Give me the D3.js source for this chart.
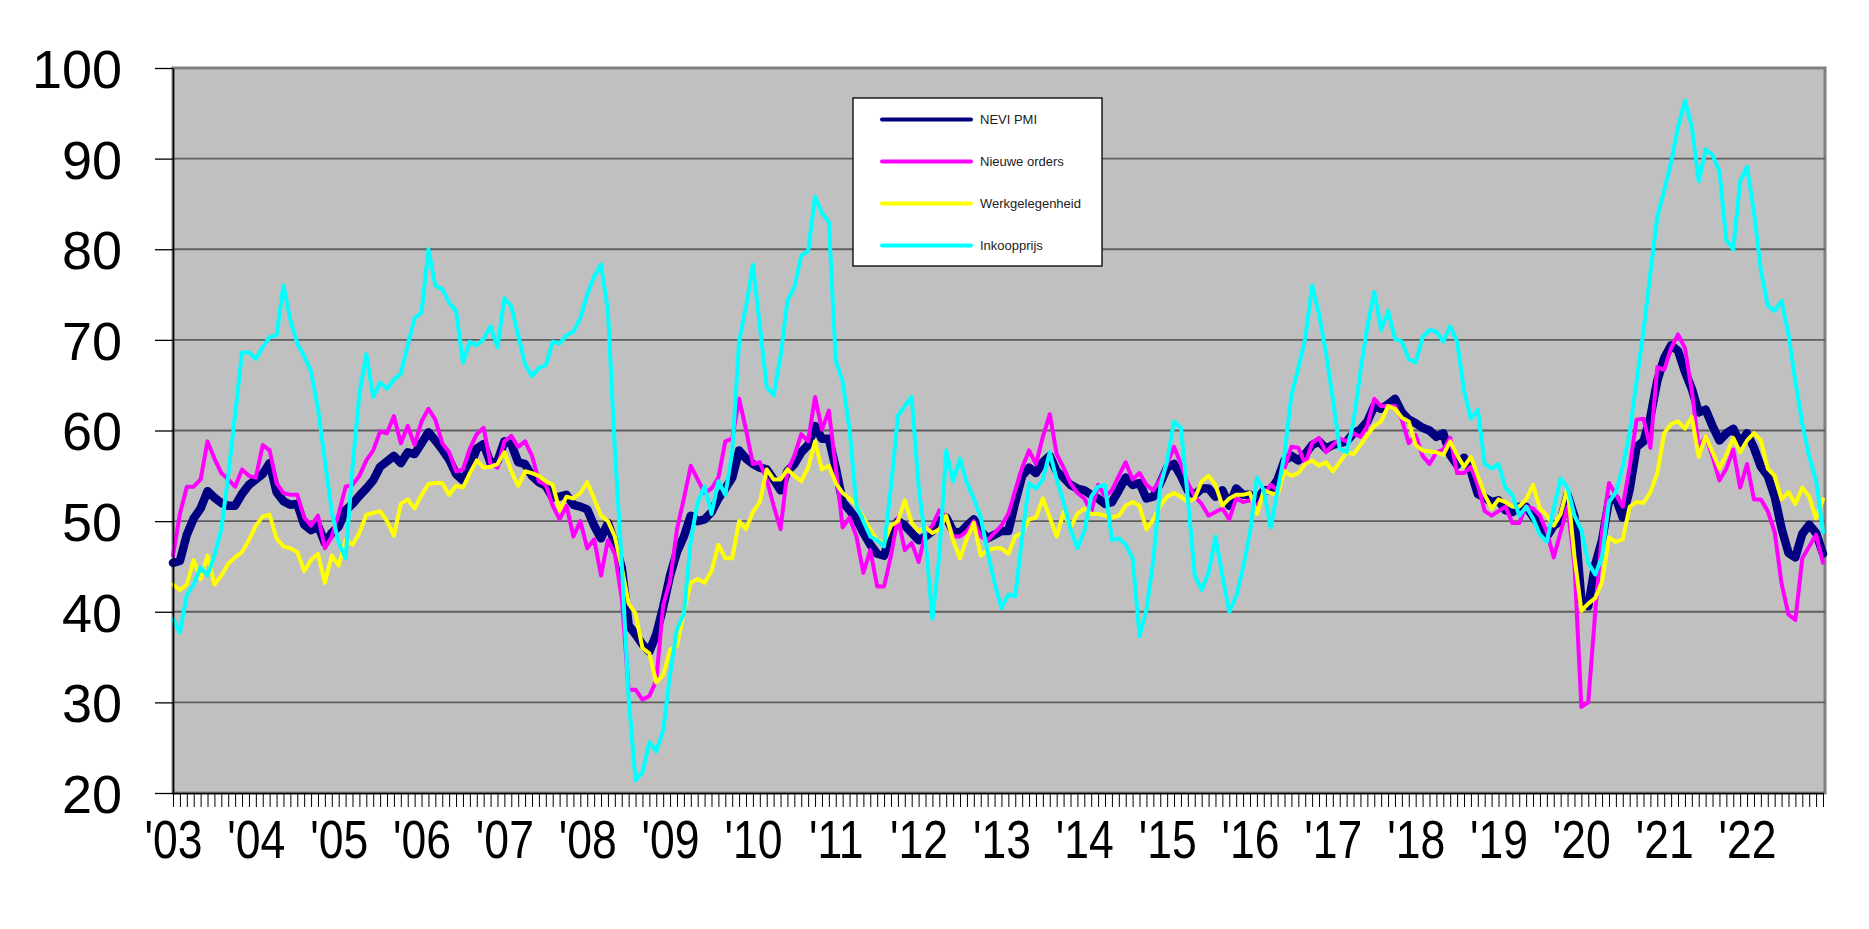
<!DOCTYPE html>
<html><head><meta charset="utf-8">
<script src="https://cdn.jsdelivr.net/npm/d3@7"></script>
<style>
html,body{margin:0;padding:0;background:#fff;}
svg{display:block;font-family:"Liberation Sans",Arial,Helvetica,sans-serif;}
</style></head><body>
<svg id="chart" width="1869" height="929"></svg>
<script>
// Monthly categories: April 2003 – March 2023
const categories = d3.timeMonth.range(new Date(2003, 3, 1), new Date(2023, 3, 1)).map(d3.timeFormat("%Y-%m"));
const yearLabels = ["'03","'04","'05","'06","'07","'08","'09","'10","'11","'12","'13","'14","'15","'16","'17","'18","'19","'20","'21","'22"];
const yTicks = [20,30,40,50,60,70,80,90,100];
const seriesNames = ["NEVI PMI","Nieuwe orders","Werkgelegenheid","Inkoopprijs"];

const nevi = [
45.4,45.6,48.5,50.3,51.4,53.3,52.6,52.0,51.7,51.7,53.0,54.0,
54.6,55.2,56.4,53.2,52.2,51.8,51.9,49.6,49.0,49.5,47.6,48.7,
49.4,51.2,51.9,52.8,53.6,54.5,56.0,56.6,57.2,56.4,57.6,57.4,
58.6,59.8,58.9,57.9,56.8,55.2,54.5,56.0,58.0,58.5,56.4,56.6,
58.8,58.5,56.5,56.3,55.0,54.3,53.9,52.6,52.7,52.9,51.8,51.6,
51.3,49.5,48.1,49.8,47.5,44.9,38.5,37.5,36.4,35.6,37.5,40.5,
44.0,46.6,48.3,50.6,50.0,50.2,51.0,52.5,53.6,54.8,57.8,56.9,
56.3,55.9,55.7,54.6,53.4,55.5,56.3,57.6,58.4,60.5,59.1,59.1,
55.9,52.1,51.2,50.2,48.7,47.4,46.4,46.2,48.7,50.0,49.5,48.7,
47.9,48.3,48.9,50.0,50.4,48.9,48.7,49.5,50.2,48.9,48.1,48.5,
48.9,48.9,52.1,55.0,55.9,55.3,56.5,57.2,55.5,54.8,54.0,53.6,
53.4,52.9,52.5,51.9,52.1,53.4,54.8,54.0,54.2,52.5,52.7,54.2,
55.9,56.3,55.0,53.4,52.9,53.6,53.6,52.7,53.4,51.7,53.6,52.9,
52.9,52.3,53.4,53.4,54.6,56.7,57.2,56.7,57.4,58.4,58.8,58.0,
58.4,58.6,58.8,59.7,60.1,61.0,62.7,62.4,62.9,63.5,62.0,61.2,
60.8,60.3,60.0,59.3,59.7,57.3,56.2,57.0,55.5,53.0,52.6,52.1,
52.3,51.2,51.0,51.6,51.6,50.5,49.5,48.3,49.5,50.0,52.9,50.5,
41.3,40.6,45.2,47.9,52.3,52.5,50.4,53.5,58.2,58.8,61.5,65.5,
68.0,69.4,68.8,66.5,64.6,62.0,62.3,60.5,58.9,59.7,60.2,58.6,
59.7,58.1,56.0,55.0,52.7,49.2,46.5,46.0,48.6,49.6,48.7,46.4];

const orders = [
46.2,50.8,53.8,53.8,54.6,58.8,56.9,55.3,54.6,53.8,55.7,55.0,
54.8,58.4,57.8,54.2,53.1,52.9,52.9,50.4,49.5,50.6,47.0,48.3,
50.8,53.8,54.0,55.0,56.7,57.8,59.9,59.7,61.6,58.6,60.5,58.4,
61.0,62.4,61.2,58.6,57.6,55.5,55.7,58.0,59.6,60.3,56.3,55.9,
58.8,59.4,58.2,58.8,57.2,54.4,54.0,51.7,50.2,51.7,48.3,50.0,
47.0,48.0,44.0,47.9,46.4,41.5,31.4,31.4,30.3,30.7,32.4,40.7,
43.4,49.1,52.5,56.1,54.6,53.1,53.6,54.8,58.8,59.1,63.5,60.1,
56.3,56.5,54.6,51.7,49.1,55.5,57.2,59.6,58.8,63.7,60.1,62.2,
55.9,49.3,50.4,48.3,44.3,46.8,42.8,42.8,46.2,50.4,46.8,47.6,
45.5,48.7,49.5,51.2,50.4,48.3,48.3,48.9,50.0,48.3,47.9,48.7,
49.5,50.8,53.4,55.9,57.8,56.3,59.3,61.8,57.4,55.9,54.2,53.1,
52.5,51.0,54.0,52.7,53.4,55.0,56.5,54.6,55.3,54.0,53.4,54.6,
56.3,58.2,56.3,54.2,52.7,51.9,50.6,51.0,51.4,50.2,52.5,52.1,
52.3,51.7,52.9,54.0,53.4,55.9,58.2,58.1,56.3,58.6,59.2,57.6,
58.4,59.1,58.8,59.7,59.3,60.5,63.5,62.7,62.7,62.7,61.2,58.6,
59.5,57.2,56.3,57.6,57.9,59.2,55.3,55.3,56.0,54.0,51.1,50.6,
51.1,51.6,49.8,49.8,51.6,51.4,50.6,48.8,46.0,48.8,51.6,45.2,
29.5,30.0,39.9,48.8,54.2,52.9,51.6,56.0,61.2,61.3,58.1,67.0,
66.7,69.1,70.6,69.1,64.4,58.1,59.4,57.1,54.5,55.8,57.9,53.7,
56.3,52.4,52.4,51.1,48.8,43.1,39.7,39.1,45.9,47.2,48.5,45.4];

const employment = [
43.0,42.4,43.0,45.7,43.6,46.2,43.0,44.0,45.3,46.0,46.6,47.9,
49.5,50.5,50.7,48.1,47.2,47.0,46.6,44.5,45.7,46.4,43.2,46.2,
45.1,47.9,47.4,48.7,50.7,50.9,51.1,50.0,48.4,51.9,52.4,51.4,
52.9,54.1,54.2,54.2,52.9,53.9,53.7,55.3,56.7,55.9,56.0,56.3,
57.6,55.5,53.9,55.5,55.3,55.0,54.4,54.0,51.2,52.7,52.5,53.1,
54.3,52.5,50.6,50.0,48.3,44.9,40.9,39.8,36.0,35.4,32.2,33.0,
35.8,36.2,40.0,43.2,43.6,43.2,44.5,47.4,45.9,45.9,50.0,49.1,
51.0,52.1,55.7,54.6,54.6,55.7,55.0,54.4,55.9,58.8,55.7,56.1,
54.2,53.1,52.5,51.7,50.4,49.1,47.9,47.6,49.5,50.0,52.3,49.8,
48.9,49.3,48.7,49.1,50.6,47.9,45.9,48.1,49.8,46.2,46.8,47.0,
47.0,46.4,48.3,48.7,50.2,50.4,52.5,50.4,48.3,51.0,49.3,50.8,
51.4,50.8,50.8,50.6,50.4,50.6,51.7,52.1,51.7,49.1,50.2,51.7,
52.7,53.1,52.7,52.1,52.5,54.4,55.0,54.0,51.7,52.5,52.9,52.9,
53.1,50.8,53.4,53.1,52.9,55.5,55.0,55.3,56.3,56.7,56.1,56.5,
55.5,56.5,57.6,57.4,58.4,59.5,60.5,61.0,62.7,62.4,61.4,61.0,
58.4,57.8,57.7,57.6,57.3,58.8,57.3,56.0,57.1,55.0,52.9,51.4,
52.4,52.1,51.6,51.6,52.4,54.0,51.4,50.6,49.5,50.8,53.7,46.1,
40.1,40.9,41.5,43.3,48.2,47.7,48.0,51.6,52.1,52.0,53.2,55.3,
59.7,60.7,61.0,60.2,61.5,57.1,59.4,57.6,55.8,57.3,59.2,57.6,
58.9,59.7,58.9,55.8,55.0,52.4,53.2,51.9,53.7,52.7,50.3,52.4];

const prices = [
39.2,37.7,41.9,43.0,44.9,44.0,46.2,49.1,55.0,61.8,68.6,68.6,
67.9,69.2,70.3,70.5,76.0,72.2,69.6,68.2,66.5,62.4,56.7,51.0,
47.6,45.9,55.9,64.1,68.4,63.7,65.3,64.6,65.6,66.3,69.4,72.4,
73.0,80.0,76.0,75.6,74.1,73.2,67.5,69.8,69.4,70.1,71.5,69.2,
74.6,73.7,70.5,67.3,66.0,66.9,67.2,69.8,69.6,70.5,70.9,72.4,
75.0,77.0,78.3,73.2,58.0,45.3,30.5,21.4,22.3,25.6,24.6,26.9,
33.1,38.1,39.8,47.9,52.1,53.8,50.8,54.4,52.9,57.6,69.8,73.7,
78.3,71.5,64.8,63.9,68.2,74.3,75.8,79.3,79.8,85.8,84.0,83.0,
67.7,65.4,60.1,51.7,50.0,48.3,47.9,47.2,53.8,61.6,62.7,63.7,
53.8,47.9,39.2,46.2,57.8,54.4,56.9,54.2,52.5,50.4,46.6,43.2,
40.4,41.9,41.7,48.3,54.2,53.6,54.6,57.6,54.6,52.1,49.1,47.0,
48.9,52.7,53.8,54.0,47.9,48.1,47.4,45.9,37.3,40.2,45.7,53.8,
56.7,61.0,60.3,52.5,44.0,42.4,44.3,48.3,44.0,40.0,41.7,44.9,
48.7,54.8,53.4,49.3,53.4,57.4,63.9,66.9,70.1,76.0,72.8,68.6,
63.5,58.0,57.6,61.0,66.5,71.5,75.3,71.1,73.2,70.1,69.8,67.9,
67.5,70.3,71.1,70.9,69.8,71.5,69.8,64.4,61.3,62.3,56.3,55.8,
56.3,53.7,52.9,50.6,51.6,50.3,48.5,47.7,51.4,54.7,53.7,50.6,
49.0,45.4,44.1,46.1,52.1,53.2,56.0,59.7,65.5,71.0,77.4,83.6,
86.5,89.6,93.5,96.4,93.5,87.5,91.0,90.4,88.6,81.0,80.0,87.5,
89.1,84.1,77.7,73.8,73.2,74.3,70.6,65.4,60.7,57.1,54.5,48.8];

const seriesData = [nevi, orders, employment, prices];
const seriesColors = ["#000080","#FF00FF","#FFFF00","#00FFFF"];
const seriesWidths = [8.5, 4, 4, 4];

const svg = d3.select("#chart");
const L = 173, R = 1823, T = 68, B = 793;

const x = d3.scalePoint().domain(categories).range([L, R]);
const y = d3.scaleLinear().domain([20, 100]).range([B, T]);

// plot background
svg.append("rect").attr("x", L).attr("y", T).attr("width", R - L + 2).attr("height", B - T)
  .attr("fill", "#C0C0C0").attr("stroke", "#808080").attr("stroke-width", 3);

// gridlines
svg.append("g").selectAll("line").data(yTicks.filter(v => v > 20 && v < 100)).join("line")
  .attr("x1", L).attr("x2", R + 2).attr("y1", d => y(d)).attr("y2", d => y(d))
  .attr("stroke", "#5f5f5f").attr("stroke-width", 1.8);

// lines
const line = d3.line().x((d, i) => x(categories[i])).y(d => y(d));
seriesData.forEach((s, k) => {
  svg.append("path").datum(s).attr("d", line).attr("fill", "none")
    .attr("stroke", seriesColors[k]).attr("stroke-width", seriesWidths[k])
    .attr("stroke-linejoin", "round").attr("stroke-linecap", "round");
});

// y axis
const gy = svg.append("g").attr("transform", `translate(${L},0)`)
  .call(d3.axisLeft(y).tickValues(yTicks).tickSize(18).tickSizeOuter(0).tickPadding(33).tickFormat(d3.format("d")));
gy.select(".domain").attr("stroke", "#000").attr("stroke-width", 1.5);
gy.selectAll(".tick line").attr("stroke", "#000").attr("stroke-width", 1.3);
gy.selectAll("text").attr("font-size", 54).attr("fill", "#000").attr("dy", "0.36em")
  .style("font-family", '"Liberation Sans", Arial, sans-serif');

// x axis: monthly ticks
const gx = svg.append("g").attr("transform", `translate(0,${B})`)
  .call(d3.axisBottom(x).tickValues(categories).tickSize(14).tickSizeOuter(0).tickFormat(""));
gx.select(".domain").attr("stroke", "#000").attr("stroke-width", 1.5);
gx.selectAll(".tick line").attr("stroke", "#000").attr("stroke-width", 1);

// x axis: year labels
const yearCats = categories.filter((c, i) => i % 12 === 0);
const gl = svg.append("g").attr("transform", `translate(0,${B})`)
  .call(d3.axisBottom(x).tickValues(yearCats).tickSize(0).tickFormat((d) => yearLabels[yearCats.indexOf(d)]));
gl.select(".domain").remove();
gl.selectAll("text").attr("font-size", 53).attr("fill", "#000").attr("y", 65).attr("dy", 0)
  .attr("transform", "scale(0.84,1)")
  .style("font-family", '"Liberation Sans", Arial, sans-serif');

// legend
const lg = svg.append("g");
lg.append("rect").attr("x", 853).attr("y", 98).attr("width", 249).attr("height", 168)
  .attr("fill", "#fff").attr("stroke", "#000").attr("stroke-width", 1.3);
seriesNames.forEach((n, k) => {
  const yy = 119.5 + k * 42;
  lg.append("line").attr("x1", 882).attr("x2", 971).attr("y1", yy).attr("y2", yy)
    .attr("stroke", seriesColors[k]).attr("stroke-width", 4).attr("stroke-linecap", "round");
  lg.append("text").attr("x", 980).attr("y", yy).attr("dy", "0.36em")
    .attr("font-size", 13).attr("fill", "#222").text(n);
});
</script>
</body></html>
